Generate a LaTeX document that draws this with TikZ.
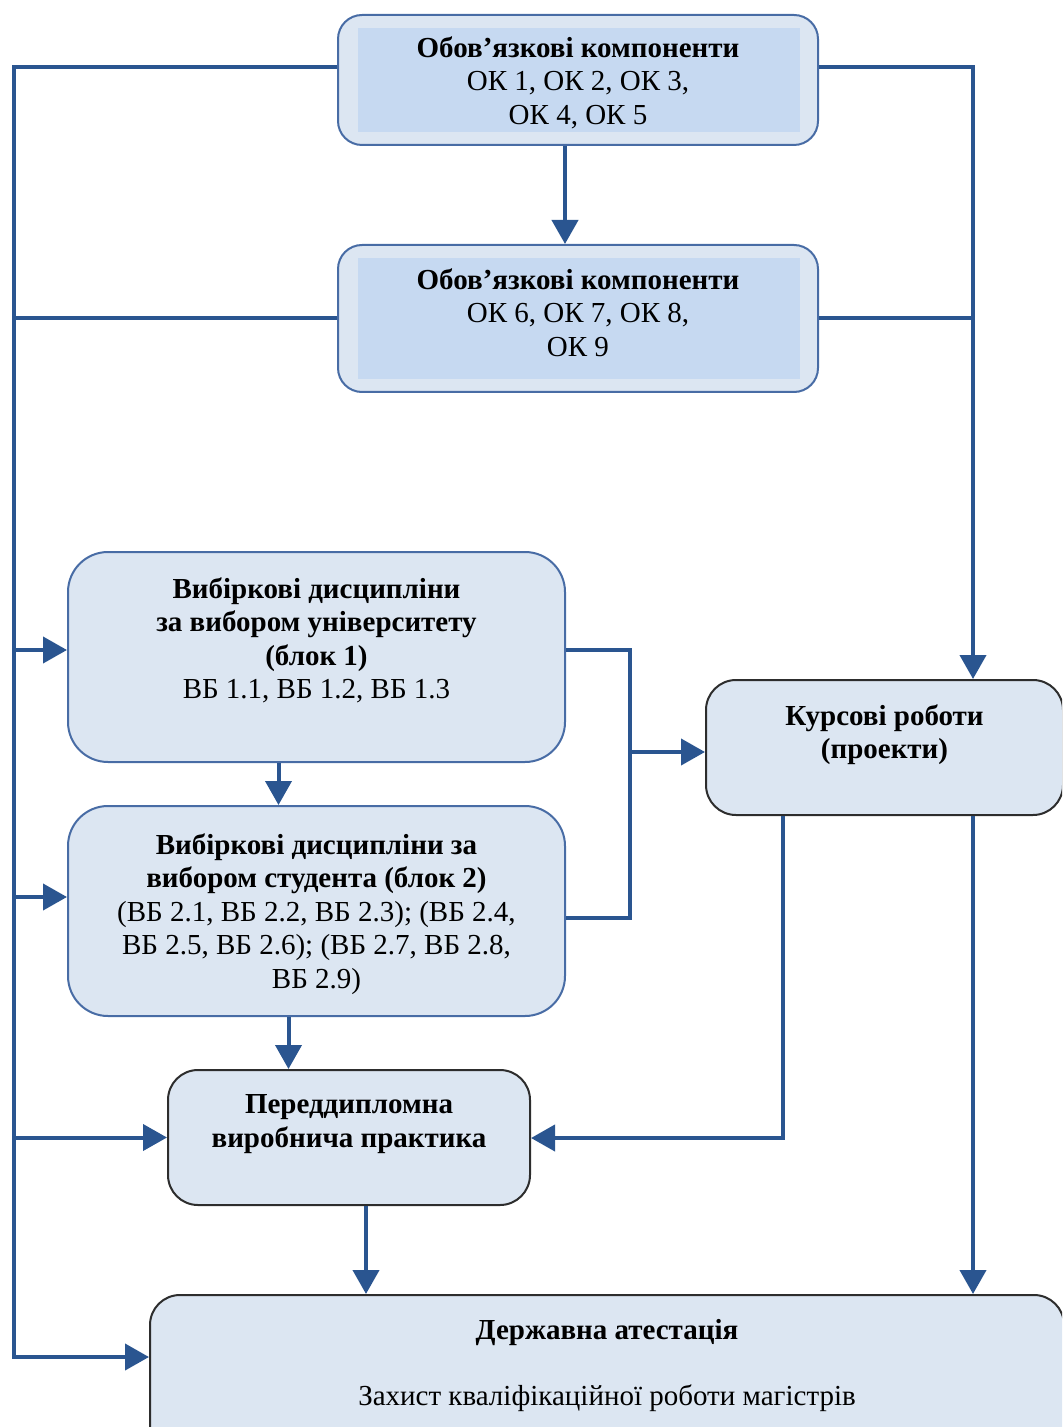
\documentclass[tikz,border=0pt]{standalone}
\usepackage{fontspec}
\setmainfont{Liberation Serif}
\usetikzlibrary{positioning}
\usetikzlibrary{arrows.meta,calc}

\definecolor{lineblue}{RGB}{42,85,144}
\definecolor{boxfill}{RGB}{220,230,242}
\definecolor{innerfill}{RGB}{198,217,241}
\definecolor{boxedge}{RGB}{72,108,165}
\definecolor{darkedge}{RGB}{45,45,45}

\begin{document}
\begin{tikzpicture}[x=0.5pt, y=-0.5pt,
  box/.style={rectangle, rounded corners=12pt, fill=boxfill, draw=boxedge, line width=1pt, inner sep=0pt},
  okbox/.style={box, minimum width=240pt, path picture={
      \fill[innerfill, sharp corners] ([shift={(10pt,-6.5pt)}]path picture bounding box.north west)
        rectangle ([shift={(-9pt,6.5pt)}]path picture bounding box.south east);}},
  vbbox/.style={box, rounded corners=20pt, minimum width=248.5pt, minimum height=105pt},
  darkbox/.style={box, rounded corners=15pt, draw=darkedge},
  txt/.style={align=center, inner sep=0pt, font=\fontsize{14.5}{16.8}\selectfont},
  conn/.style={draw=lineblue, line width=2pt},
  arr/.style={conn, -{Triangle[length=12pt,width=13pt]}}]

\clip (0,0) rectangle (1062,1427);

% blocks
\node[okbox, minimum height=65pt] (ok1) at (578,80) {};
\node[okbox, minimum height=73.5pt] (ok2) at (578,318.5) {};
\node[vbbox] (vb1) at (316.5,657) {};
\node[vbbox] (vb2) at (316.5,911) {};
\node[darkbox, minimum width=178.5pt, minimum height=67.5pt] (kurs) at (884.5,747.5) {};
\node[darkbox, minimum width=181pt, minimum height=67.5pt] (pered) at (349,1137.5) {};
\node[darkbox, minimum width=457pt, minimum height=87.5pt] (derzh) at (607,1382.5) {};

\node[txt, below=11pt of ok1.north] (ok1t) {\textbf{Обов’язкові компоненти}\\ОК 1, ОК 2, ОК 3,\\ОК 4, ОК 5};
\node[txt, below=12pt of ok2.north] (ok2t) {\textbf{Обов’язкові компоненти}\\ОК 6, ОК 7, ОК 8,\\ОК 9};
\node[txt, below=13pt of vb1.north] (vb1t) {\textbf{Вибіркові дисципліни}\\\textbf{за вибором університету}\\\textbf{(блок 1)}\\ВБ 1.1, ВБ 1.2, ВБ 1.3};
\node[txt, below=14pt of vb2.north] (vb2t) {\textbf{Вибіркові дисципліни за}\\\textbf{вибором студента (блок 2)}\\(ВБ 2.1, ВБ 2.2, ВБ 2.3); (ВБ 2.4,\\ВБ 2.5, ВБ 2.6); (ВБ 2.7, ВБ 2.8,\\ВБ 2.9)};
\node[txt, below=12.5pt of kurs.north] (kurst) {\textbf{Курсові роботи}\\\textbf{(проекти)}};
\node[txt, below=12.5pt of pered.north] (peredt) {\textbf{Переддипломна}\\\textbf{виробнича практика}};
\node[txt, below=12.5pt of derzh.north] (derzht) {\textbf{Державна атестація}\\[16pt]Захист кваліфікаційної роботи магістрів};

% trunks
\coordinate (lt) at (14,67);
\coordinate (lb) at (14,1357);
\coordinate (rt) at (973,67);
\coordinate (bus) at (630,752);
\coordinate (kb) at (783,1138);

\draw[arr] (ok1.west |- lt) -- (lt) -- (lb) -- (lb -| derzh.west);
\draw[conn] (ok2.west) -- (ok2.west -| lt);
\draw[arr] ([yshift=3.5pt]vb1.west -| lt) -- ([yshift=3.5pt]vb1.west);
\draw[arr] ([yshift=7pt]vb2.west -| lt) -- ([yshift=7pt]vb2.west);
\draw[arr] (pered.west -| lt) -- (pered.west);

\draw[arr] (ok1.east |- rt) -- (rt) -- (rt |- kurs.north);
\draw[conn] (ok2.east) -- (ok2.east -| rt);

\draw[arr] ([xshift=-6.5pt]ok1.south) coordinate (o1s) -- (o1s |- ok2.north);
\draw[arr] ([xshift=-19pt]vb1.south) coordinate (v1s) -- (v1s |- vb2.north);
\draw[arr] ([xshift=-14pt]vb2.south) coordinate (v2s) -- (v2s |- pered.north);
\draw[arr] ([xshift=8.5pt]pered.south) coordinate (ps) -- (ps |- derzh.north);

\draw[conn] ([yshift=3.5pt]vb1.east) -| (bus);
\draw[conn] ([yshift=-3.5pt]vb2.east) -| (bus);
\draw[arr] (bus) -- (bus -| kurs.west);

\draw[arr] (kurs.south -| kb) -- (kb) -- (kb -| pered.east);
\draw[arr] (kurs.south -| rt) -- (rt |- derzh.north);

\end{tikzpicture}
\end{document}
